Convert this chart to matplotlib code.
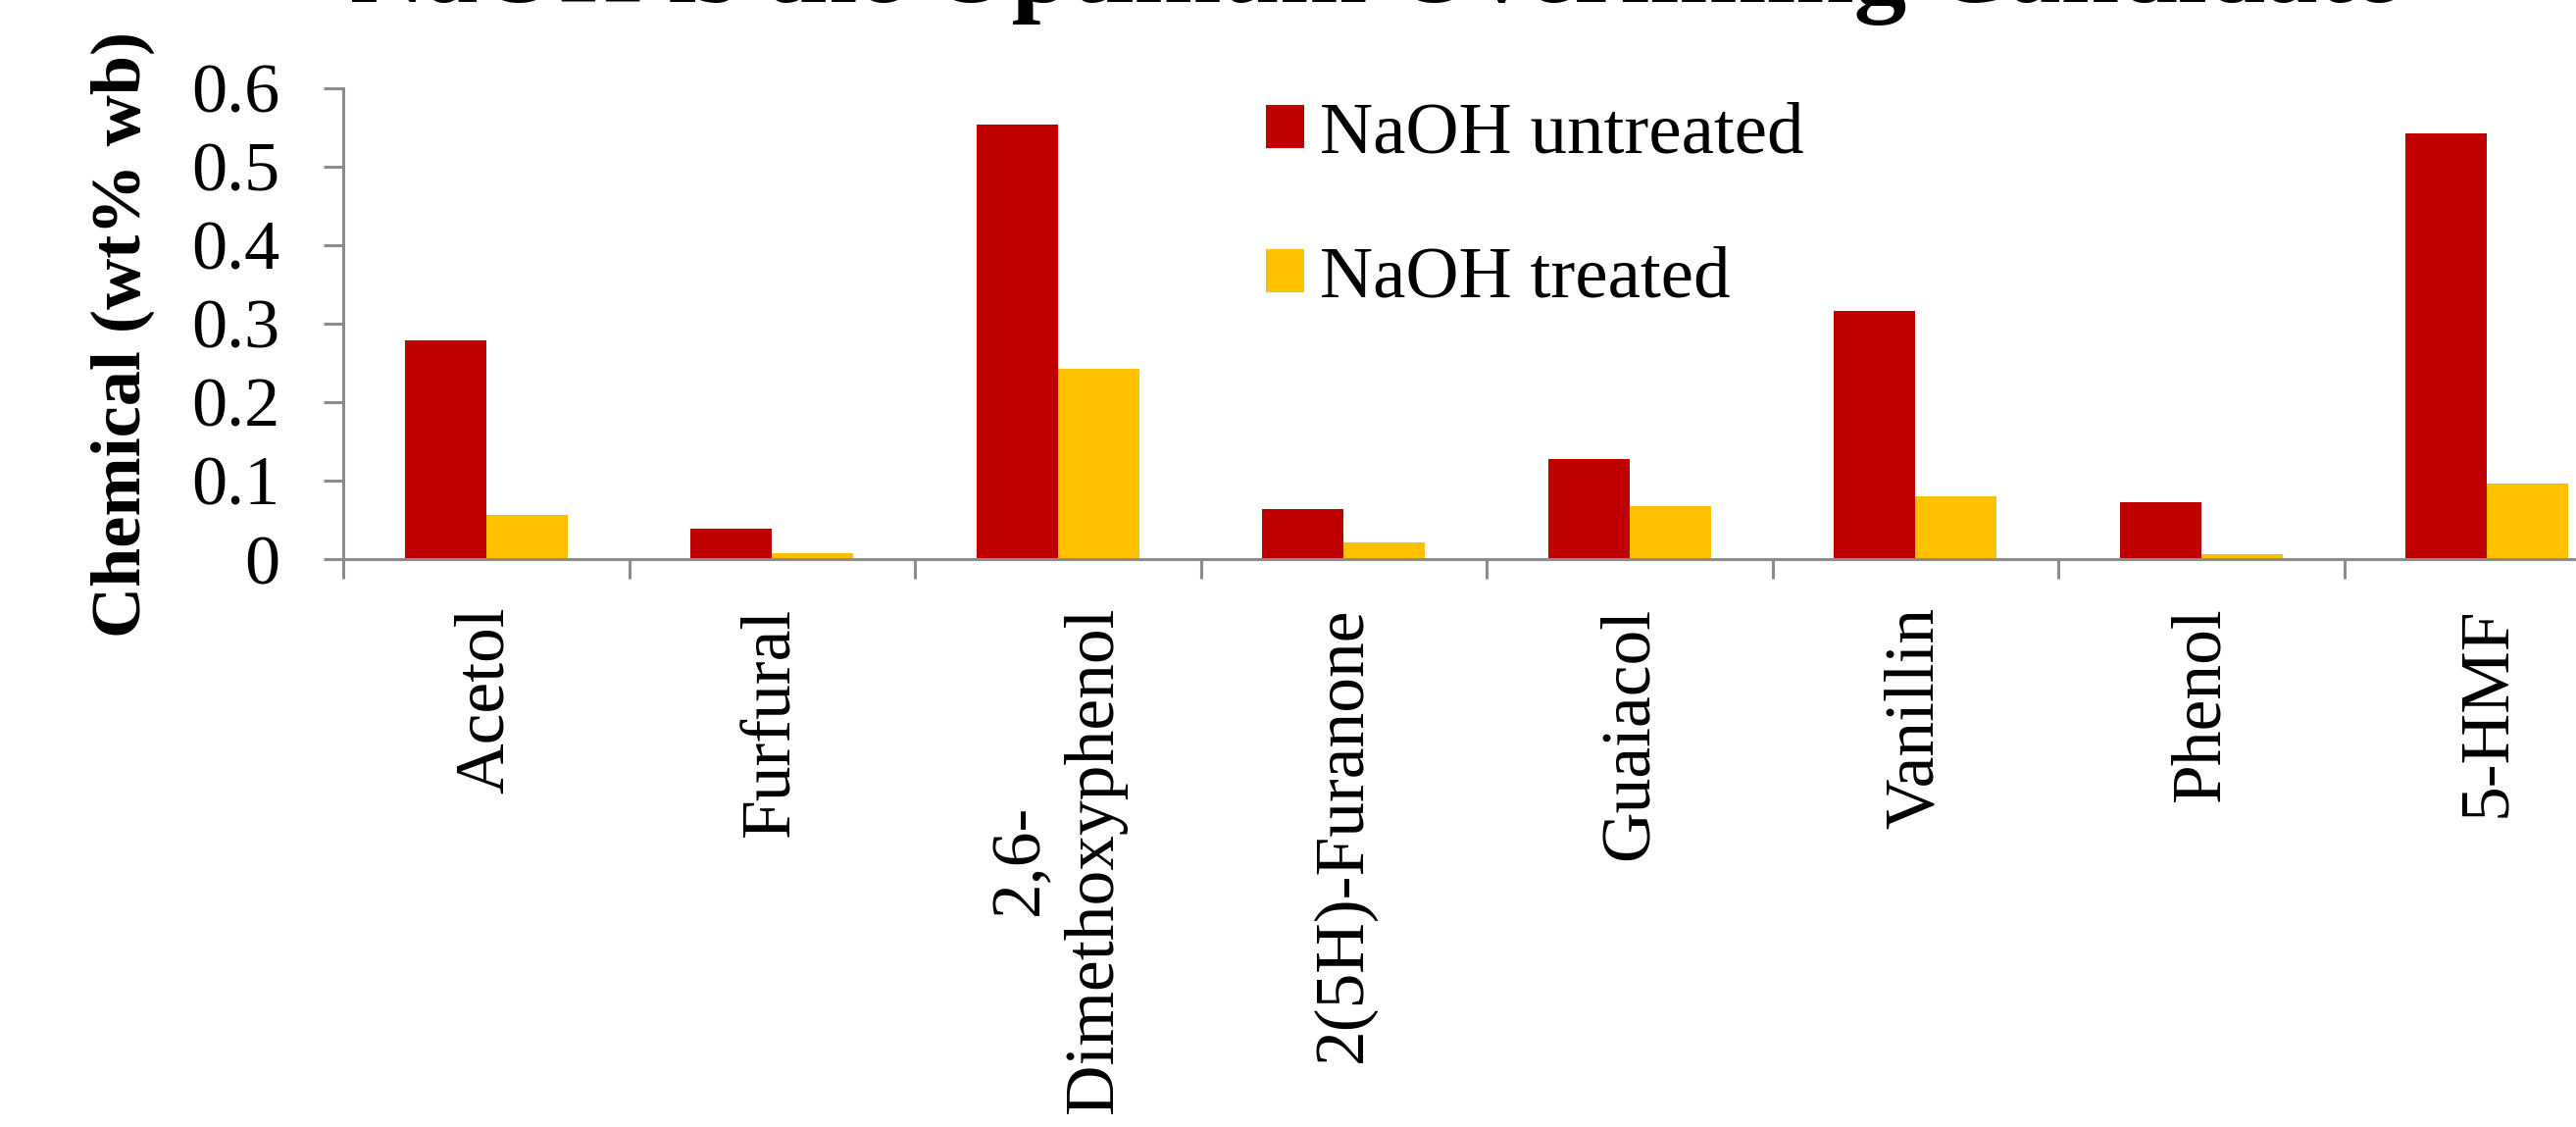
import matplotlib
matplotlib.use("Agg")
import matplotlib.pyplot as plt
import numpy as np

categories = ["Acetol", "Furfural", "2,6-\nDimethoxyphenol", "2(5H)-Furanone",
              "Guaiacol", "Vanillin", "Phenol", "5-HMF"]
untreated = [0.279, 0.039, 0.553, 0.064, 0.127, 0.316, 0.072, 0.542]
treated = [0.056, 0.008, 0.242, 0.021, 0.067, 0.080, 0.006, 0.096]
yticks = [0, 0.1, 0.2, 0.3, 0.4, 0.5, 0.6]
ytick_labels = ["0", "0.1", "0.2", "0.3", "0.4", "0.5", "0.6"]

plt.rcParams["font.family"] = ["Liberation Serif", "DejaVu Serif"]
grey = "#8C8C8C"

fig = plt.figure(figsize=(26.27, 11.49), dpi=100)
W, H = 2627, 1149
ax = fig.add_axes([350 / W, 1 - 570 / H, (2682 - 350) / W, (570 - 89.5) / H])

x = np.arange(len(categories))
bw = 0.285
ax.bar(x - bw / 2, untreated, bw, color="#C00000", label="NaOH untreated")
ax.bar(x + bw / 2, treated, bw, color="#FFC000", label="NaOH treated")

ax.set_xlim(-0.5, len(categories) - 0.5)
ax.set_ylim(0, 0.6)
ax.set_yticks(yticks)
ax.set_yticklabels(ytick_labels)

# major ticks at category boundaries, labels on minor ticks at centres
ax.set_xticks(np.arange(len(categories) + 1) - 0.5)
ax.set_xticklabels([])
ax.set_xticks(x, minor=True)
ax.set_xticklabels(categories, minor=True, rotation=90, ha="center", va="top",
                   multialignment="center")

for s in ["top", "right"]:
    ax.spines[s].set_visible(False)
for s in ["left", "bottom"]:
    ax.spines[s].set_color(grey)
    ax.spines[s].set_linewidth(2.2)

ax.tick_params(axis="y", which="major", direction="out", length=14.4, width=2.2,
               color=grey, labelsize=52, pad=32)
ax.tick_params(axis="x", which="major", direction="out", length=14.4, width=2.2,
               color=grey)
ax.tick_params(axis="x", which="minor", length=0, labelsize=51.5, pad=35)

fig.text(125 / W, 1 - 341 / H, "Chemical (wt% wb)", rotation=90, ha="center",
         va="center", fontsize=52, fontweight="bold")

fig.text(1402 / W, 1 - 2 / H, "NaOH is the Optimum Overliming Candidate",
         ha="center", va="baseline", fontsize=77, fontweight="bold")

ax.legend(loc="upper left", bbox_to_anchor=(1291 / W, 1 - 104 / H),
          bbox_transform=fig.transFigure, frameon=False, fontsize=54,
          handlelength=0.52, handleheight=0.52, handletextpad=0.22,
          labelspacing=1.06, borderpad=0, borderaxespad=0)

fig.savefig("out.png", dpi=100)
